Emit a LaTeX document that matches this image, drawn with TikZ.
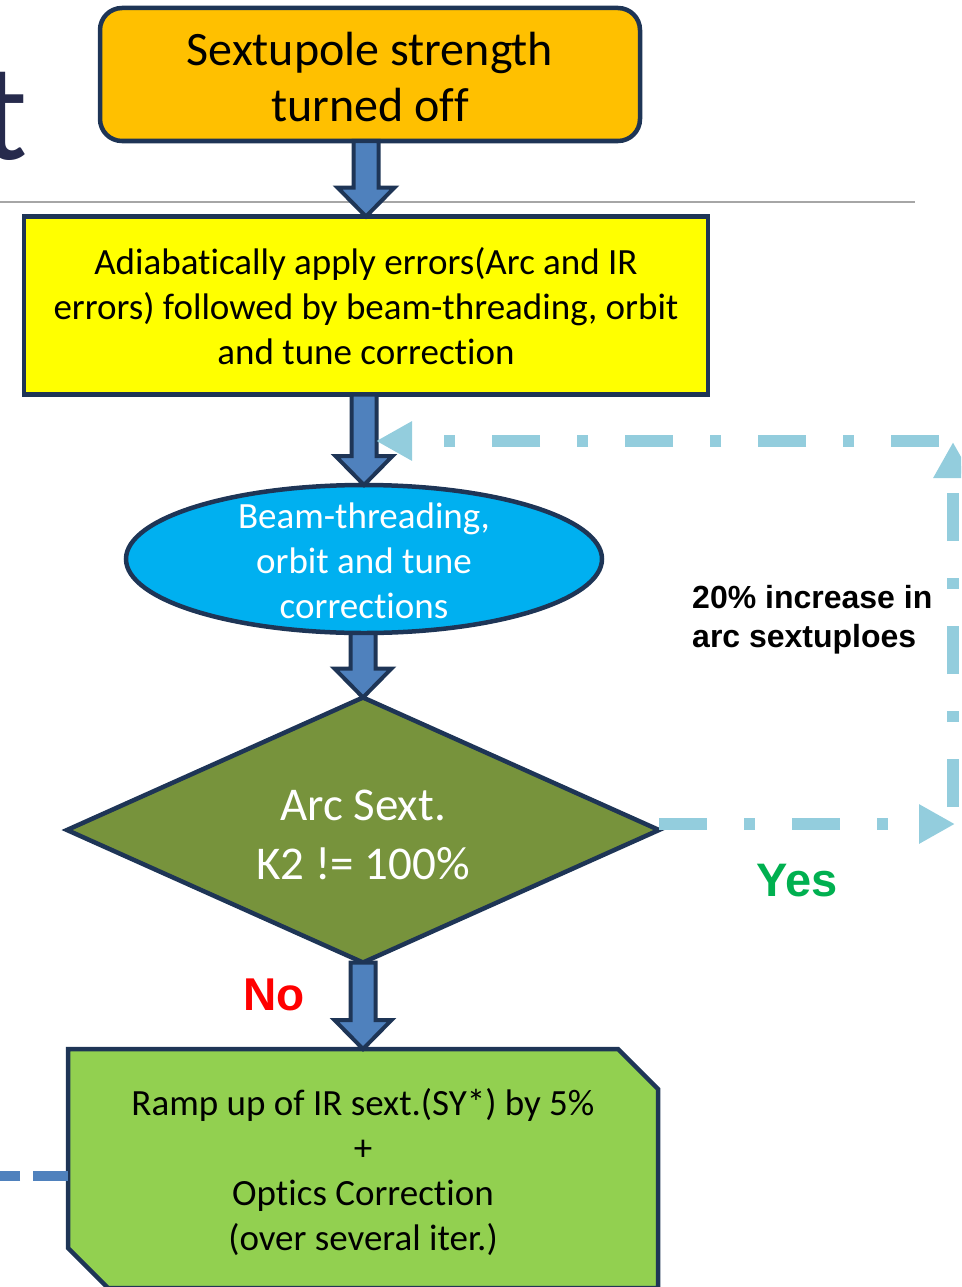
\documentclass[tikz,border=0pt]{standalone}
\usepackage{fontspec}
\setmainfont{Carlito}[Ligatures={NoCommon}]
\newfontfamily\arialfont{Liberation Sans}
\usetikzlibrary{shapes.geometric,arrows.meta,calc}
\definecolor{navy}{HTML}{1E3556}
\definecolor{orangeY}{HTML}{FFC000}
\definecolor{yelw}{HTML}{FFFF00}
\definecolor{cyanE}{HTML}{00B0F0}
\definecolor{olive}{HTML}{77933C}
\definecolor{lgreen}{HTML}{92D050}
\definecolor{barrow}{HTML}{4F81BD}
\definecolor{loopc}{HTML}{93CDDD}
\definecolor{titlec}{HTML}{262A4C}
\definecolor{rulec}{HTML}{A6A6A6}
\definecolor{yesc}{HTML}{00B050}
\newcommand\blockarrow[2]{%
  \draw[blockarr] let \p1=(#1), \p2=(#2) in
    (\x2-12.5pt,\y1) -- (\x2-12.5pt,\y2+29pt) -- (\x2-28.5pt,\y2+29pt) --
    (\x2,\y2) -- (\x2+28.5pt,\y2+29pt) -- (\x2+12.5pt,\y2+29pt) --
    (\x2+12.5pt,\y1) -- cycle;}
\begin{document}
\begin{tikzpicture}[x=1pt,y=-1pt,
  boxline/.style={draw=navy,line width=4.5pt},
  topbox/.style={boxline,fill=orangeY,rounded corners=22pt,minimum width=540pt,minimum height=133pt,inner sep=0pt,outer sep=0pt},
  ybox/.style={boxline,fill=yelw,minimum width=684pt,minimum height=178pt,inner sep=0pt,outer sep=0pt},
  ell/.style={boxline,fill=cyanE,ellipse,minimum width=476pt,minimum height=148pt,inner sep=0pt,outer sep=0pt},
  dia/.style={boxline,fill=olive,diamond,minimum width=592pt,minimum height=265pt,inner sep=0pt,outer sep=0pt},
  rampframe/.style={minimum width=590pt,minimum height=239pt,inner sep=0pt,outer sep=0pt},
  txt/.style={inner sep=0pt,align=center,font=\fontsize{37}{45}\selectfont},
  bigtxt/.style={inner sep=0pt,align=center,font=\fontsize{48}{56}\selectfont},
  blockarr/.style={draw=navy,fill=barrow,line width=4pt,line join=miter},
  loopline/.style={draw=loopc,line width=12pt,dash pattern=on 48pt off 37pt on 11pt off 37pt,-{Triangle[length=36pt,width=37pt]}},
  lbl/.style={inner sep=0pt,font=\arialfont\bfseries\fontsize{32}{39}\selectfont}
]
\useasboundingbox (0,0) rectangle (961,1287);
\clip (0,0) rectangle (961,1287);

% cut-off title letter and rule
\node[anchor=base east,inner sep=0pt,text=titlec,font=\fontsize{138}{140}\selectfont] (ttl) at (28,160) {t};
\coordinate (r1) at (0,202);
\coordinate (r2) at (915,202);
\draw[rulec,line width=2pt] (r1) -- (r2);

% nodes
\node[topbox] (start) at (370,74.5) {};
\node[bigtxt] (starttxt) at (370,77) {Sextupole strength\\turned off};
\node[ybox] (adia) at (366,305.5) {};
\node[txt] (adiatxt) at (366,306.5) {Adiabatically apply errors(Arc and IR\\errors) followed by beam-threading, orbit\\and tune correction};
\node[ell] (beam) at (364,559) {};
\node[txt,text=white] (beamtxt) at (364,561) {Beam-threading,\\orbit and tune\\corrections};
\node[dia] (dec) at (363,830) {};
\node[bigtxt,text=white,font=\fontsize{47}{59}\selectfont] (dectxt) at (363,835) {Arc Sext.\\K2 != 100\%};
\node[rampframe] (rampbox) at (363,1168.5) {};
\draw[boxline,fill=lgreen,line join=miter]
  (rampbox.north west) -- ([xshift=-40pt]rampbox.north east) --
  ([yshift=-40pt]rampbox.north east) -- (rampbox.south east) --
  ([xshift=40pt]rampbox.south west) -- ([yshift=40pt]rampbox.south west) -- cycle;
\node[txt] (ramptxt) at (363,1172.5) {Ramp up of IR sext.(SY*) by 5\%\\+\\Optics Correction\\(over several iter.)};

% block arrows
\blockarrow{start.south}{adia.north}
\blockarrow{adia.south}{beam.north}
\blockarrow{beam.south}{dec.north}
\blockarrow{dec.south}{rampbox.north}

% feedback loop
\coordinate (c1) at (955,824);
\coordinate (c2) at (953,807);
\coordinate (c3) at (953,442);
\coordinate (c4) at (939,441);
\coordinate (c5) at (376,441);
\draw[loopline] ([yshift=6pt]dec.east) -- (c1);
\draw[loopline] (c2) -- (c3);
\draw[loopline] (c4) -- (c5);

% left dashed line
\coordinate (lend) at (-20,1176);
\draw[barrow,line width=10pt,dash pattern=on 35pt off 13pt] (rampbox.west |- lend) -- (lend);

% labels
\node[lbl,anchor=west,align=left] (inc) at (692,620) {20\% increase in\\arc sextuploes};
\node[inner sep=0pt,text=yesc,font=\arialfont\bfseries\fontsize{47}{50}\selectfont] (yes) at (797,881) {Yes};
\node[inner sep=0pt,text=red,font=\arialfont\bfseries\fontsize{46}{50}\selectfont] (no) at (274,995) {No};
\end{tikzpicture}
\end{document}
